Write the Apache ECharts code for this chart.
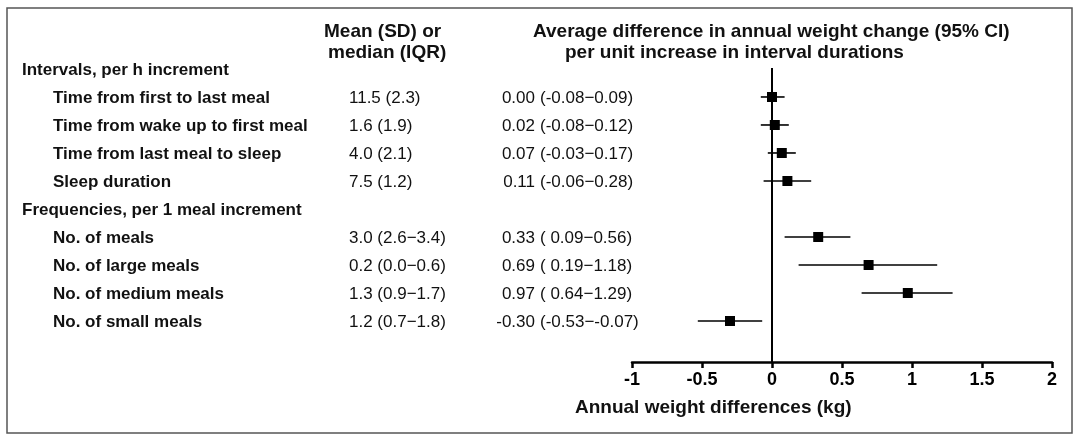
<!DOCTYPE html>
<html>
<head>
<meta charset="utf-8">
<script src="https://cdn.jsdelivr.net/npm/echarts@6/dist/echarts.min.js"></script>
<style>html,body{margin:0;padding:0;background:#fff;}#c{width:1080px;height:441px;}</style>
</head>
<body>
<div id="c"></div>
<script>
// ---- data ----
const groupLabels = ['Intervals, per h increment', 'Frequencies, per 1 meal increment'];
const groupRows = [0, 5];
const itemLabels = ['Time from first to last meal', 'Time from wake up to first meal', 'Time from last meal to sleep', 'Sleep duration',
                    'No. of meals', 'No. of large meals', 'No. of medium meals', 'No. of small meals'];
const itemRows = [1, 2, 3, 4, 6, 7, 8, 9];
const meanSd = ['11.5 (2.3)', '1.6 (1.9)', '4.0 (2.1)', '7.5 (1.2)',
                '3.0 (2.6\u22123.4)', '0.2 (0.0\u22120.6)', '1.3 (0.9\u22121.7)', '1.2 (0.7\u22121.8)'];
const estimates = [0.00, 0.02, 0.07, 0.11, 0.33, 0.69, 0.97, -0.30];
const lowers    = [-0.08, -0.08, -0.03, -0.06, 0.09, 0.19, 0.64, -0.53];
const uppers    = [0.09, 0.12, 0.17, 0.28, 0.56, 1.18, 1.29, -0.07];
const xTicks = [-1, -0.5, 0, 0.5, 1, 1.5, 2];

const FONT = '"Liberation Sans", Arial, Helvetica, sans-serif';
const fmtCI = (lo, hi) => '(' + (lo >= 0 ? ' ' : '') + lo.toFixed(2) + '\u2212' + hi.toFixed(2) + ')';

const chart = echarts.init(document.getElementById('c'), null, {renderer: 'canvas'});

const textData = [];
groupRows.forEach((r, i) => textData.push({value: [0, r], kind: 'group', label: groupLabels[i]}));
itemRows.forEach((r, i) => textData.push({value: [0, r], kind: 'item', label: itemLabels[i], mean: meanSd[i],
  est: estimates[i].toFixed(2), ci: fmtCI(lowers[i], uppers[i])}));

const barData = itemRows.map((r, i) => [r, estimates[i], lowers[i], uppers[i]]);
const TXT_DY = 1.5;

chart.setOption({
  animation: false,
  grid: {left: 632, right: 28, top: 68, bottom: 79},
  xAxis: {
    type: 'value', min: xTicks[0], max: xTicks[xTicks.length - 1], interval: 0.5,
    axisLine: {show: true, onZero: false, lineStyle: {color: '#000', width: 2.5}},
    axisTick: {show: true, length: 6, lineStyle: {color: '#000', width: 2.5}},
    axisLabel: {color: '#000', fontSize: 18, fontWeight: 'bold', fontFamily: FONT, margin: 9,
      formatter: v => String(v)},
    splitLine: {show: false}
  },
  yAxis: {type: 'value', inverse: true, min: -0.035, max: 10.465, show: false},
  graphic: [
    {type: 'rect', shape: {x: 7, y: 8, width: 1065, height: 425}, style: {fill: 'none', stroke: '#555', lineWidth: 1.5}},
    {type: 'text', left: 324, top: 22, style: {text: 'Mean (SD) or', font: 'bold 19px ' + FONT, fill: '#111'}},
    {type: 'text', left: 328, top: 43, style: {text: 'median (IQR)', font: 'bold 19px ' + FONT, fill: '#111'}},
    {type: 'text', left: 533, top: 22, style: {text: 'Average difference in annual weight change (95% CI)', font: 'bold 19px ' + FONT, fill: '#111'}},
    {type: 'text', left: 565, top: 43, style: {text: 'per unit increase in interval durations', font: 'bold 19px ' + FONT, fill: '#111'}},
    {type: 'text', left: 575, top: 398, style: {text: 'Annual weight differences (kg)', font: 'bold 19px ' + FONT, fill: '#111'}}
  ],
  series: [
    {
      type: 'custom', clip: false, silent: true,
      data: textData,
      encode: {x: 0, y: 1},
      renderItem: function (params, api) {
        const d = textData[params.dataIndex];
        const y = api.coord([0, api.value(1)])[1] + TXT_DY;
        const children = [];
        if (d.kind === 'group') {
          children.push({type: 'text', style: {x: 22, y: y, text: d.label, font: 'bold 17px ' + FONT, fill: '#111', verticalAlign: 'middle'}});
        } else {
          children.push({type: 'text', style: {x: 53, y: y, text: d.label, font: 'bold 17px ' + FONT, fill: '#111', verticalAlign: 'middle'}});
          children.push({type: 'text', style: {x: 349, y: y, text: d.mean, font: '17px ' + FONT, fill: '#111', verticalAlign: 'middle'}});
          children.push({type: 'text', style: {x: 535, y: y, text: d.est, font: '17px ' + FONT, fill: '#111', align: 'right', verticalAlign: 'middle'}});
          children.push({type: 'text', style: {x: 540, y: y, text: d.ci, font: '17px ' + FONT, fill: '#111', verticalAlign: 'middle'}});
        }
        return {type: 'group', children: children};
      },
      z: 5
    },
    {
      type: 'custom', silent: true,
      data: barData,
      encode: {x: [1, 2, 3], y: 0},
      renderItem: function (params, api) {
        const row = api.value(0);
        const pe = api.coord([api.value(1), row]);
        const pl = api.coord([api.value(2), row]);
        const ph = api.coord([api.value(3), row]);
        const s = 10;
        return {type: 'group', children: [
          {type: 'line', shape: {x1: pl[0], y1: pl[1], x2: ph[0], y2: ph[1]}, style: {stroke: '#000', lineWidth: 1.6}},
          {type: 'rect', shape: {x: pe[0] - s / 2, y: pe[1] - s / 2, width: s, height: s}, style: {fill: '#000'}}
        ]};
      },
      markLine: {
        silent: true, symbol: 'none', label: {show: false},
        lineStyle: {color: '#000', width: 2, type: 'solid'},
        data: [{xAxis: 0}]
      },
      z: 10
    }
  ]
});
</script>
</body>
</html>
